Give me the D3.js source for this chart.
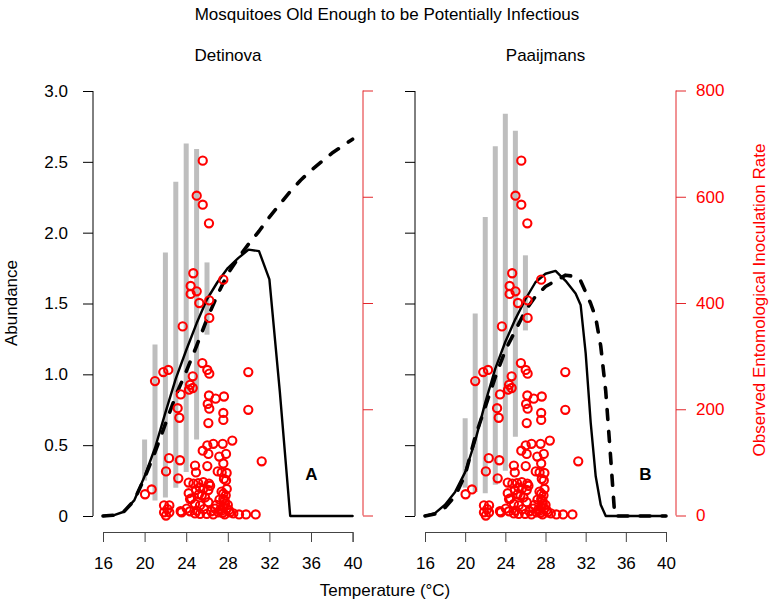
<!DOCTYPE html>
<html>
<head>
<meta charset="utf-8">
<script src="https://cdn.jsdelivr.net/npm/d3@7"></script>
<style>
  html, body { margin: 0; padding: 0; background: #fff; }
  svg { display: block; font-family: "Liberation Sans", Arial, Helvetica, sans-serif; }
</style>
</head>
<body>
<svg id="chart" width="774" height="608"></svg>
<script>
// ---------------- DATA ----------------
const xTicks = [16, 20, 24, 28, 32, 36, 40];
const abundanceTicks = [0, 0.5, 1.0, 1.5, 2.0, 2.5, 3.0];
const abundanceTickLabels = ["0", "0.5", "1.0", "1.5", "2.0", "2.5", "3.0"];
const eirTicks = [0, 200, 400, 600, 800];

// Observed abundance ranges (grey bars): temperature, low, high
const detBarTemp = [20, 21, 22, 23, 24, 25, 26];
const detBarLow  = [0.25, 0.11, 0.13, 0.20, 0.31, 0.54, 1.28];
const detBarHigh = [0.54, 1.21, 1.86, 2.36, 2.63, 2.59, 1.79];

const parBarTemp = [20, 21, 22, 23, 24, 25, 26];
const parBarLow  = [0.20, 0.17, 0.16, 0.22, 0.32, 0.56, 1.31];
const parBarHigh = [0.69, 1.43, 2.11, 2.61, 2.84, 2.72, 1.84];

// Detinova model curves
const detSolidTemp = [16,17,18,19,20,21,22,23,24,25,26,27,28,29,30,31,32,33,34,35,36,37,38,39,40];
const detSolidVal  = [0,0.005,0.03,0.11,0.28,0.48,0.73,0.97,1.17,1.36,1.53,1.65,1.75,1.82,1.88,1.87,1.67,0.88,0,0,0,0,0,0,0];
const detDashTemp  = [16,17,18,19,20,21,22,23,24,25,26,27,28,29,30,31,32,33,34,35,36,37,38,39,40];
const detDashVal   = [0,0.005,0.03,0.11,0.27,0.45,0.65,0.85,1.02,1.20,1.39,1.56,1.71,1.82,1.92,2.01,2.11,2.20,2.29,2.37,2.44,2.50,2.56,2.61,2.66];

// Paaijmans model curves
const parSolidTemp = [16,17,18,19,20,21,22,23,24,25,26,27,28,29,30,31,31.5,32,32.5,33,33.5,34,35,36,37,38,39,40];
const parSolidVal  = [0,0.02,0.08,0.17,0.31,0.53,0.80,1.04,1.23,1.39,1.53,1.65,1.71,1.73,1.66,1.57,1.49,1.15,0.66,0.28,0.08,0,0,0,0,0,0,0];
const parDashTemp  = [16,17,18,19,20,21,22,23,24,25,26,27,28,29,30,31,31.5,32,32.5,33,33.5,34,34.5,34.9,36,37,38,39,40];
const parDashVal   = [0,0.015,0.06,0.14,0.29,0.56,0.77,0.98,1.17,1.31,1.45,1.55,1.62,1.66,1.70,1.69,1.66,1.58,1.50,1.40,1.20,0.88,0.40,0,0,0,0,0,0];

// Observed entomological inoculation rate (red circles)
const eirTemp = [25.59,25.01,25.59,26.19,24.68,24.43,25.01,24.43,27.57,25.26,26.22,26.22,23.66,25.55,26.03,26.22,29.97,21.8,22.28,21.0,
  24.63,24.37,24.63,24.27,23.47,26.19,26.83,27.63,26.07,26.22,23.18,23.34,29.97,27.57,27.57,26.13,28.43,27.51,26.61,26.03,
  25.59,26.13,27.18,27.83,27.57,31.26,22.35,23.4,24.85,22.06,24.94,26.03,27.03,27.41,27.89,27.63,27.83,23.24,24.24,20.68,
  20.04,24.24,25.16,25.64,26.19,24.94,25.64,26.13,25.23,24.37,25.81,27.57,27.57,27.73,24.85,25.33,26.13,21.87,22.38,21.87,
  22.38,22.06,23.47,24.05,24.37,25.01,25.97,26.77,27.09,27.41,27.89,28.21,28.53,29.08,29.75,30.68,24.85,25.33,27.5,27.6,
  27.7,27.8,27.9,28.0,27.4,27.3,28.1,27.7,26.6,26.9,27.2,23.56,24.5,25.5,26.3,25.3,24.7,26.4,25.7,22.2];
const eirRate = [668,602,585,550,456,432,422,417,444,400,405,372,356,287,274,267,270,270,274,253,
  262,246,240,237,228,226,220,224,210,201,202,184,199,193,180,174,141,135,135,132,
  122,116,111,116,98,102,108,104,94,83,81,93,83,81,80,69,66,70,62,49,
  40,42,61,63,60,48,50,48,40,31,34,41,31,22,22,19,25,19,19,6,
  6,0,8,13,8,9,3,13,6,9,13,6,4,2,2,2,4,3,5,15,
  28,38,50,20,45,12,10,2,2,20,30,6,32,38,56,53,60,8,12,12];

// ---------------- DRAWING ----------------
const svg = d3.select("#chart");
const FONT = 17;
const BLACK = "#000";
const RED = "#ff0000";
const AXRED = "#e3262b";

const yA = d3.scaleLinear().domain([0, 3]).range([516, 91]);
const yE = d3.scaleLinear().domain([0, 800]).range([515.5, 90.5]);

const panels = [
  { name: "Detinova", letter: "A", x: d3.scaleLinear().domain([16, 40]).range([103, 352.6]),
    leftX: 93, rightX: 363, barT: detBarTemp, barLo: detBarLow, barHi: detBarHigh,
    sT: detSolidTemp, sV: detSolidVal, dT: detDashTemp, dV: detDashVal,
    showLeftLabels: true, showRightLabels: false, letterX: 311.5 },
  { name: "Paaijmans", letter: "B", x: d3.scaleLinear().domain([16, 40]).range([425, 666]),
    leftX: 415, rightX: 676, barT: parBarTemp, barLo: parBarLow, barHi: parBarHigh,
    sT: parSolidTemp, sV: parSolidVal, dT: parDashTemp, dV: parDashVal,
    showLeftLabels: false, showRightLabels: true, letterX: 645.5 }
];

function styleAxis(g, color, textColor) {
  g.select(".domain").attr("stroke", color).attr("stroke-width", 1);
  g.selectAll(".tick line").attr("stroke", color).attr("stroke-width", 1);
  g.selectAll(".tick text").attr("fill", textColor).attr("font-size", FONT)
    .attr("font-family", "Liberation Sans, Arial, sans-serif");
}

panels.forEach(p => {
  const x = p.x;
  const g = svg.append("g");

  // grey observed-abundance bars
  g.selectAll("line.bar").data(p.barT).enter().append("line")
    .attr("class", "bar")
    .attr("x1", d => x(d)).attr("x2", d => x(d))
    .attr("y1", (d, i) => yA(p.barLo[i])).attr("y2", (d, i) => yA(p.barHi[i]))
    .attr("stroke", "#bebebe").attr("stroke-width", 5);

  const line = d3.line().x(d => x(d[0])).y(d => yA(d[1]));

  // solid curve
  g.append("path")
    .attr("d", line(p.sT.map((t, i) => [t, p.sV[i]])))
    .attr("fill", "none").attr("stroke", BLACK).attr("stroke-width", 2.4)
    .attr("stroke-linejoin", "round").attr("stroke-linecap", "round");

  // dashed curve
  g.append("path")
    .attr("d", line(p.dT.map((t, i) => [t, p.dV[i]])))
    .attr("fill", "none").attr("stroke", BLACK).attr("stroke-width", 3.6)
    .attr("stroke-linejoin", "round").attr("stroke-linecap", "round")
    .attr("stroke-dasharray", "10,12");

  // red circles (EIR)
  g.selectAll("circle").data(eirTemp).enter().append("circle")
    .attr("cx", d => x(d)).attr("cy", (d, i) => yE(eirRate[i]))
    .attr("r", 4.1).attr("fill", "none").attr("stroke", RED).attr("stroke-width", 2.1);

  // bottom axis
  const xa = svg.append("g").attr("transform", "translate(0,532)")
    .call(d3.axisBottom(x).tickValues(xTicks).tickSize(10).tickPadding(15).tickFormat(d3.format("d")));
  styleAxis(xa, "#444", BLACK);

  // left abundance axis
  const ya = svg.append("g").attr("transform", `translate(${p.leftX},0)`)
    .call(d3.axisLeft(yA).tickValues(abundanceTicks).tickSize(10).tickPadding(15)
      .tickFormat((d, i) => p.showLeftLabels ? abundanceTickLabels[i] : ""));
  ya.select(".domain").attr("d", `M0,${yA(0)}V${yA(3)}`);
  styleAxis(ya, BLACK, BLACK);

  // right EIR axis
  const ea = svg.append("g").attr("transform", `translate(${p.rightX},0)`)
    .call(d3.axisRight(yE).tickValues(eirTicks).tickSize(10).tickPadding(10)
      .tickFormat(d => p.showRightLabels ? d3.format("d")(d) : ""));
  ea.select(".domain").attr("d", `M0,${yE(0)}V${yE(800)}`);
  styleAxis(ea, AXRED, RED);

  // panel title
  svg.append("text").attr("x", (p.leftX + p.rightX) / 2).attr("y", 61)
    .attr("text-anchor", "middle").attr("font-size", FONT).attr("fill", BLACK).text(p.name);

  // panel letter
  svg.append("text").attr("x", p.letterX).attr("y", 480)
    .attr("text-anchor", "middle").attr("font-size", 17).attr("font-weight", "bold")
    .attr("fill", BLACK).text(p.letter);
});

// overall title
svg.append("text").attr("x", 387).attr("y", 20).attr("text-anchor", "middle")
  .attr("font-size", FONT).attr("fill", BLACK).text("Mosquitoes Old Enough to be Potentially Infectious");

// x-axis label
svg.append("text").attr("x", 385).attr("y", 596).attr("text-anchor", "middle")
  .attr("font-size", FONT).attr("fill", BLACK).text("Temperature (°C)");

// y-axis labels
svg.append("text").attr("transform", "translate(17,303) rotate(-90)").attr("text-anchor", "middle")
  .attr("font-size", FONT).attr("fill", BLACK).text("Abundance");
svg.append("text").attr("transform", "translate(765,300) rotate(-90)").attr("text-anchor", "middle")
  .attr("font-size", FONT).attr("fill", RED).text("Observed Entomological Inoculation Rate");
</script>
</body>
</html>
